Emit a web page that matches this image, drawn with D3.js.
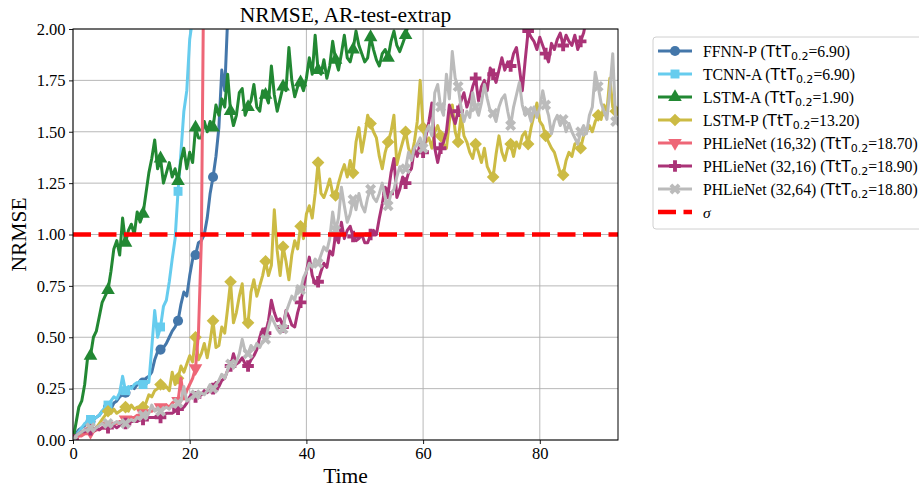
<!DOCTYPE html>
<html>
<head>
<meta charset="utf-8">
<script src="https://cdn.jsdelivr.net/npm/d3@7"></script>
<style>
  body { margin: 0; background: #fff; }
  text { font-family: 'Liberation Serif', 'Times New Roman', serif; }
</style>
</head>
<body>
<script>
// values sampled every 0.5 time units, starting at t = 0
const timeStep = 0.5

const ffnnP = [0.00, 0.03, 0.05, 0.06, 0.07, 0.08, 0.09, 0.10, 0.11, 0.12, 0.14, 0.15, 0.16, 0.15, 0.18, 0.19, 0.21, 0.22, 0.23, 0.25,
  0.26, 0.25, 0.27, 0.28, 0.28, 0.30, 0.31, 0.33, 0.39, 0.43, 0.44, 0.45, 0.47, 0.50, 0.53, 0.55, 0.58, 0.66, 0.72, 0.70,
  0.80, 0.88, 0.90, 0.96, 0.97, 1.00, 1.08, 1.20, 1.28, 1.38, 1.52, 1.80, 1.70, 2.05]

const tcnnA = [0.00, 0.02, 0.04, 0.06, 0.08, 0.09, 0.10, 0.10, 0.11, 0.12, 0.14, 0.16, 0.17, 0.19, 0.21, 0.20, 0.23, 0.31, 0.24, 0.26,
  0.25, 0.27, 0.28, 0.27, 0.27, 0.28, 0.28, 0.45, 0.63, 0.50, 0.55, 0.65, 0.68, 0.77, 0.88, 0.98, 1.21, 1.40, 1.60, 1.70,
  1.95, 2.05]

const lstmA = [0.00, 0.08, 0.16, 0.19, 0.27, 0.40, 0.41, 0.50, 0.53, 0.60, 0.67, 0.70, 0.73, 0.82, 0.93, 0.97, 0.90, 1.08, 0.96, 1.02,
  1.05, 1.00, 1.11, 1.06, 1.10, 1.20, 1.30, 1.37, 1.46, 1.32, 1.37, 1.25, 1.30, 1.35, 1.28, 1.32, 1.26, 1.36, 1.42, 1.32,
  1.40, 1.35, 1.52, 1.47, 1.47, 1.55, 1.50, 1.55, 1.52, 1.63, 1.58, 1.66, 1.62, 1.78, 1.60, 1.53, 1.58, 1.69, 1.71, 1.58,
  1.62, 1.65, 1.73, 1.62, 1.60, 1.70, 1.68, 1.64, 1.82, 1.68, 1.60, 1.66, 1.72, 1.70, 1.91, 1.75, 1.67, 1.72, 1.74, 1.70,
  1.76, 1.86, 1.78, 1.97, 1.80, 1.78, 1.85, 1.76, 1.82, 1.94, 1.85, 1.80, 1.88, 1.97, 1.86, 1.84, 1.90, 1.99, 1.92, 1.88,
  1.84, 1.86, 1.96, 1.90, 1.85, 1.82, 1.88, 1.90, 1.86, 1.94, 1.99, 1.92, 1.89, 1.93, 1.97, 2.03]

const lstmP = [0.00, 0.01, 0.02, 0.03, 0.03, 0.04, 0.05, 0.05, 0.06, 0.08, 0.10, 0.12, 0.14, 0.13, 0.15, 0.13, 0.14, 0.15, 0.16, 0.14,
  0.17, 0.15, 0.16, 0.14, 0.16, 0.18, 0.22, 0.21, 0.24, 0.25, 0.27, 0.25, 0.26, 0.24, 0.33, 0.27, 0.30, 0.36, 0.33, 0.37,
  0.41, 0.38, 0.50, 0.39, 0.42, 0.47, 0.40, 0.48, 0.58, 0.45, 0.46, 0.55, 0.52, 0.64, 0.77, 0.57, 0.62, 0.70, 0.76, 0.58,
  0.57, 0.72, 0.78, 0.70, 0.75, 0.80, 0.87, 0.80, 0.85, 1.12, 0.92, 0.80, 0.94, 0.87, 0.78, 0.90, 0.97, 0.93, 1.04, 0.98,
  1.10, 1.14, 1.08, 1.20, 1.35, 1.20, 1.18, 1.22, 1.27, 1.20, 1.19, 1.25, 1.30, 1.34, 1.28, 1.36, 1.30, 1.45, 1.52, 1.40,
  1.48, 1.58, 1.54, 1.50, 1.47, 1.38, 1.32, 1.40, 1.45, 1.50, 1.58, 1.34, 1.40, 1.45, 1.50, 1.42, 1.38, 1.45, 1.55, 1.75,
  1.52, 1.45, 1.47, 1.42, 1.50, 1.53, 1.48, 1.44, 1.42, 1.55, 1.63, 1.50, 1.45, 1.58, 1.48, 1.45, 1.40, 1.37, 1.44, 1.40,
  1.35, 1.42, 1.33, 1.30, 1.28, 1.39, 1.48, 1.40, 1.36, 1.42, 1.44, 1.38, 1.45, 1.42, 1.48, 1.50, 1.44, 1.52, 1.58, 1.64,
  1.55, 1.53, 1.48, 1.45, 1.42, 1.40, 1.35, 1.30, 1.29, 1.36, 1.40, 1.38, 1.44, 1.45, 1.42, 1.48, 1.50, 1.53, 1.50, 1.55,
  1.58, 1.56, 1.63, 1.60, 1.76, 1.62, 1.60]

const phl1632 = [0.00, 0.01, 0.02, 0.02, 0.03, 0.03, 0.04, 0.04, 0.05, 0.05, 0.06, 0.06, 0.07, 0.07, 0.08, 0.08, 0.09, 0.09, 0.10, 0.10,
  0.11, 0.11, 0.12, 0.12, 0.13, 0.13, 0.14, 0.14, 0.15, 0.15, 0.16, 0.16, 0.17, 0.16, 0.18, 0.19, 0.19, 0.30, 0.20, 0.24,
  0.27, 0.30, 0.35, 0.52, 0.97, 2.60]

const phl3216 = [0.00, 0.02, 0.03, 0.04, 0.04, 0.05, 0.05, 0.05, 0.06, 0.05, 0.06, 0.06, 0.06, 0.07, 0.07, 0.06, 0.07, 0.08, 0.08, 0.08,
  0.09, 0.09, 0.09, 0.10, 0.10, 0.10, 0.11, 0.11, 0.11, 0.12, 0.11, 0.12, 0.13, 0.13, 0.13, 0.14, 0.15, 0.15, 0.16, 0.18,
  0.21, 0.23, 0.21, 0.22, 0.22, 0.24, 0.23, 0.26, 0.25, 0.28, 0.26, 0.29, 0.30, 0.34, 0.36, 0.42, 0.37, 0.38, 0.40, 0.37,
  0.36, 0.39, 0.41, 0.44, 0.50, 0.54, 0.52, 0.58, 0.68, 0.62, 0.58, 0.59, 0.55, 0.63, 0.60, 0.56, 0.55, 0.62, 0.67, 0.74,
  0.82, 0.89, 0.80, 0.76, 0.77, 0.82, 0.86, 0.84, 0.92, 0.90, 1.00, 0.96, 1.06, 0.98, 1.02, 1.04, 0.99, 0.97, 0.98, 1.00,
  0.96, 0.96, 1.00, 1.02, 1.00, 1.08, 1.15, 1.23, 1.20, 1.30, 1.37, 1.18, 1.22, 1.28, 1.25, 1.30, 1.32, 1.42, 1.38, 1.45,
  1.40, 1.48, 1.55, 1.64, 1.42, 1.35, 1.42, 1.45, 1.50, 1.63, 1.58, 1.54, 1.60, 1.65, 1.69, 1.62, 1.66, 1.72, 1.76, 1.65,
  1.72, 1.75, 1.70, 1.81, 1.78, 1.74, 1.80, 1.86, 1.80, 1.84, 1.82, 1.88, 1.91, 1.81, 1.70, 1.85, 1.99, 1.96, 1.94, 1.90,
  1.96, 1.92, 1.88, 1.84, 1.93, 1.90, 1.95, 1.98, 1.92, 1.97, 1.94, 1.92, 1.97, 1.90, 1.94, 1.98, 2.05]

const phl3264 = [0.00, 0.02, 0.03, 0.04, 0.05, 0.05, 0.06, 0.05, 0.06, 0.07, 0.08, 0.07, 0.08, 0.07, 0.08, 0.09, 0.08, 0.09, 0.08, 0.09,
  0.10, 0.09, 0.11, 0.10, 0.12, 0.11, 0.13, 0.17, 0.14, 0.15, 0.14, 0.15, 0.16, 0.15, 0.17, 0.16, 0.18, 0.19, 0.26, 0.19,
  0.20, 0.21, 0.22, 0.21, 0.23, 0.22, 0.24, 0.27, 0.25, 0.27, 0.29, 0.32, 0.30, 0.34, 0.37, 0.35, 0.38, 0.42, 0.49, 0.43,
  0.42, 0.46, 0.44, 0.47, 0.45, 0.48, 0.49, 0.55, 0.60, 0.57, 0.54, 0.52, 0.54, 0.62, 0.66, 0.70, 0.68, 0.75, 0.73, 0.79,
  0.82, 0.86, 0.84, 0.88, 0.86, 0.90, 0.94, 0.92, 0.98, 1.11, 1.02, 1.08, 1.23, 1.14, 1.06, 1.10, 1.17, 1.12, 1.20, 1.14,
  1.11, 1.18, 1.22, 1.18, 1.16, 1.20, 1.25, 1.18, 1.14, 1.20, 1.22, 1.28, 1.33, 1.30, 1.32, 1.40, 1.36, 1.42, 1.44, 1.47,
  1.42, 1.50, 1.53, 1.48, 1.69, 1.73, 1.62, 1.58, 1.78, 1.66, 1.89, 1.76, 1.72, 1.62, 1.55, 1.60, 1.57, 1.69, 1.62, 1.58,
  1.64, 1.73, 1.66, 1.60, 1.59, 1.55, 1.62, 1.66, 1.68, 1.60, 1.53, 1.62, 1.68, 1.74, 1.63, 1.58, 1.60, 1.55, 1.62, 1.57,
  1.62, 1.70, 1.63, 1.58, 1.49, 1.55, 1.58, 1.53, 1.56, 1.50, 1.54, 1.50, 1.47, 1.44, 1.50, 1.53, 1.49, 1.58, 1.62, 1.79,
  1.72, 1.64, 1.60, 1.56, 1.70, 1.88, 1.55]

const seriesNames = ['FFNN-P', 'TCNN-A', 'LSTM-A', 'LSTM-P', 'PHLieNet (16,32)', 'PHLieNet (32,16)', 'PHLieNet (32,64)']
const tttValues = ['6.90', '6.90', '1.90', '13.20', '18.70', '18.90', '18.80']
const seriesValues = [ffnnP, tcnnA, lstmA, lstmP, phl1632, phl3216, phl3264]
const sigmaLevel = 1.0
const xTicks = [0, 20, 40, 60, 80]
const yTicks = [0, 0.25, 0.5, 0.75, 1, 1.25, 1.5, 1.75, 2]

const colors = ['#4477AA', '#66CCEE', '#228833', '#CCBB44', '#EE6677', '#AA3377', '#BBBBBB']
const markers = [
  { type: d3.symbolCircle, size: 80, rot: 0 },
  { type: d3.symbolSquare, size: 80, rot: 0 },
  { type: d3.symbolTriangle, size: 80, rot: 0 },
  { type: d3.symbolSquare, size: 80, rot: 45 },
  { type: d3.symbolTriangle, size: 80, rot: 180 },
  { type: d3.symbolCross, size: 75, rot: 0 },
  { type: d3.symbolCross, size: 75, rot: 45 }
]
const markEvery = 6
const lineWidth = 3

const width = 919
const height = 489
const plotL = 73, plotR = 618, plotT = 29, plotB = 440

const svg = d3.select('body')
  .append('svg')
  .attr('width', width)
  .attr('height', height)

const x = d3.scaleLinear().domain([0, 93.4]).range([plotL, plotR])
const y = d3.scaleLinear().domain([0, 2]).range([plotB, plotT])

svg.append('defs').append('clipPath')
  .attr('id', 'plotclip')
  .append('rect')
  .attr('x', plotL).attr('y', plotT)
  .attr('width', plotR - plotL).attr('height', plotB - plotT)

// grid
const grid = svg.append('g')
grid.selectAll('.gx')
  .data(xTicks)
  .enter()
  .append('line')
  .attr('x1', d => x(d)).attr('x2', d => x(d))
  .attr('y1', plotT).attr('y2', plotB)
  .attr('stroke', '#b0b0b0').attr('stroke-width', 0.9)
grid.selectAll('.gy')
  .data(yTicks)
  .enter()
  .append('line')
  .attr('x1', plotL).attr('x2', plotR)
  .attr('y1', d => y(d)).attr('y2', d => y(d))
  .attr('stroke', '#b0b0b0').attr('stroke-width', 0.9)

const line = d3.line()
  .x((d, i) => x(i * timeStep))
  .y(d => y(d))

const symbolPath = m => d3.symbol().type(m.type).size(m.size)()

const plot = svg.append('g').attr('clip-path', 'url(#plotclip)')

seriesValues.forEach((vals, k) => {
  plot.append('path')
    .datum(vals)
    .attr('d', line)
    .attr('fill', 'none')
    .attr('stroke', colors[k])
    .attr('stroke-width', lineWidth)
    .attr('stroke-linejoin', 'round')

  plot.append('g')
    .selectAll('path')
    .data(vals.map((v, i) => [i, v]).filter(d => d[0] % markEvery === 0))
    .enter()
    .append('path')
    .attr('d', symbolPath(markers[k]))
    .attr('transform', d => `translate(${x(d[0] * timeStep)},${y(d[1])}) rotate(${markers[k].rot})`)
    .attr('fill', colors[k])
})

plot.append('line')
  .attr('x1', plotL).attr('x2', plotR)
  .attr('y1', y(sigmaLevel)).attr('y2', y(sigmaLevel))
  .attr('stroke', '#ff0000')
  .attr('stroke-width', 4.5)
  .attr('stroke-dasharray', '18,7.5')

// axes
const xAxis = svg.append('g')
  .attr('transform', `translate(0,${plotB})`)
  .call(d3.axisBottom(x).tickValues(xTicks).tickFormat(d3.format('d')).tickSize(4).tickPadding(3.5).tickSizeOuter(0))
const yAxis = svg.append('g')
  .attr('transform', `translate(${plotL},0)`)
  .call(d3.axisLeft(y).tickValues(yTicks).tickFormat(d3.format('.2f')).tickSize(4).tickPadding(3.5).tickSizeOuter(0))

;[xAxis, yAxis].forEach(a => {
  a.select('.domain').remove()
  a.selectAll('text')
    .attr('font-family', 'Liberation Serif')
    .attr('font-size', 16.5)
    .attr('fill', '#000')
  a.selectAll('line').attr('stroke', '#000').attr('stroke-width', 0.9)
})

svg.append('rect')
  .attr('x', plotL).attr('y', plotT)
  .attr('width', plotR - plotL).attr('height', plotB - plotT)
  .attr('fill', 'none')
  .attr('stroke', '#000')
  .attr('stroke-width', 1)

svg.append('text')
  .attr('x', (plotL + plotR) / 2)
  .attr('y', 22)
  .attr('text-anchor', 'middle')
  .attr('font-size', 21.5)
  .text('NRMSE, AR-test-extrap')

svg.append('text')
  .attr('x', (plotL + plotR) / 2)
  .attr('y', 483)
  .attr('text-anchor', 'middle')
  .attr('font-size', 21.5)
  .text('Time')

svg.append('text')
  .attr('transform', `translate(26,${(plotT + plotB) / 2}) rotate(-90)`)
  .attr('text-anchor', 'middle')
  .attr('font-size', 21.5)
  .text('NRMSE')

// legend
const legend = svg.append('g').attr('transform', 'translate(653,37)')
legend.append('rect')
  .attr('width', 290).attr('height', 192)
  .attr('rx', 3)
  .attr('fill', '#fff').attr('fill-opacity', 0.8)
  .attr('stroke', '#d0d0d0')

const rowY = i => 14 + i * 23

seriesNames.forEach((name, k) => {
  const row = legend.append('g').attr('transform', `translate(0,${rowY(k)})`)
  row.append('line')
    .attr('x1', 5).attr('x2', 39)
    .attr('stroke', colors[k]).attr('stroke-width', lineWidth)
  row.append('path')
    .attr('d', symbolPath(markers[k]))
    .attr('transform', `translate(22,0) rotate(${markers[k].rot})`)
    .attr('fill', colors[k])
  const t = row.append('text')
    .attr('x', 50).attr('y', 5.5)
    .attr('font-size', 15.7)
  t.append('tspan').text(name + ' (')
  t.append('tspan').attr('font-family', 'DejaVu Sans').text('TtT')
  t.append('tspan').attr('font-family', 'DejaVu Sans').attr('font-size', 11).attr('dy', 3.5).text('0.2')
  t.append('tspan').attr('dy', -3.5).text('=' + tttValues[k] + ')')
})

const sigRow = legend.append('g').attr('transform', `translate(0,${rowY(7)})`)
sigRow.append('line')
  .attr('x1', 5).attr('x2', 39)
  .attr('stroke', '#ff0000').attr('stroke-width', 4.5)
  .attr('stroke-dasharray', '18,7.5')
sigRow.append('text')
  .attr('x', 50).attr('y', 5.5)
  .attr('font-family', 'DejaVu Sans')
  .attr('font-style', 'italic')
  .attr('font-size', 15.5)
  .text('σ')
</script>
</body>
</html>
